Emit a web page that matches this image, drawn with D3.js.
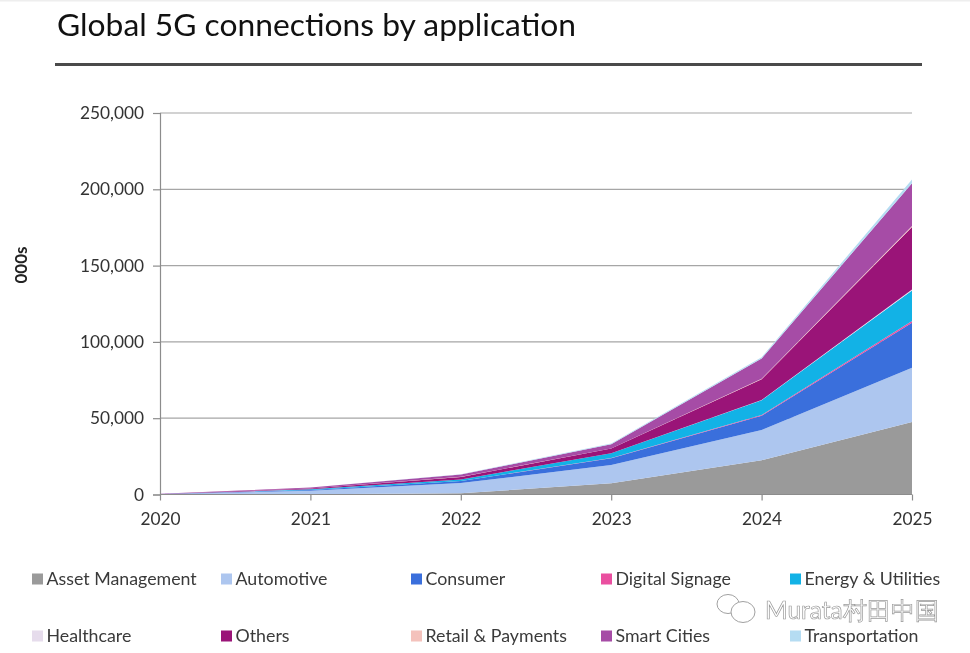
<!DOCTYPE html>
<html>
<head>
<meta charset="utf-8">
<script src="https://cdn.jsdelivr.net/npm/d3@7"></script>
<style>
  html, body { margin: 0; padding: 0; background: #fff; }
  svg { display: block; filter: blur(0.35px); }
  text { font-family: Lato, "Open Sans", sans-serif; }
</style>
</head>
<body>
<svg width="970" height="653"></svg>
<script>
'use strict';

const years = [2020, 2021, 2022, 2023, 2024, 2025];
const yTicks = [0, 50000, 100000, 150000, 200000, 250000];

const assetManagement = [50, 200, 800, 7300, 22500, 47500];
const automotive = [150, 2300, 6700, 12000, 19800, 35500];
const consumer = [50, 500, 1300, 4400, 9300, 29500];
const digitalSignage = [5, 20, 60, 150, 500, 1200];
const energyUtilities = [40, 400, 1000, 3100, 9600, 20000];
const healthcare = [5, 20, 50, 120, 300, 600];
const others = [60, 550, 1600, 3000, 13500, 41000];
const retailPayments = [5, 20, 50, 120, 300, 700];
const smartCities = [60, 550, 1500, 2800, 13300, 28000];
const transportation = [10, 60, 150, 400, 800, 2500];

const seriesNames = ['Asset Management', 'Automotive', 'Consumer', 'Digital Signage', 'Energy & Utilities',
  'Healthcare', 'Others', 'Retail & Payments', 'Smart Cities', 'Transportation'];
const seriesValues = [assetManagement, automotive, consumer, digitalSignage, energyUtilities,
  healthcare, others, retailPayments, smartCities, transportation];
const seriesColors = ['#9a9a9a', '#adc6ef', '#3a6fdc', '#ea4fa0', '#12b2e6',
  '#e6dcec', '#9a1478', '#f4c2bc', '#a64ca6', '#b5dcf2'];

let svg = d3.select('svg');

// top edge of the screenshot
svg.append('rect').attr('width', 970).attr('height', 1.5).attr('fill', '#eeeeee');

// title
svg.append('text')
    .attr('x', 57).attr('y', 36)
    .attr('font-size', 31)
    .attr('fill', '#111')
    .attr('textLength', 519)
    .attr('lengthAdjust', 'spacingAndGlyphs')
    .text('Global 5G connections by application');
svg.append('rect').attr('x', 55).attr('y', 63).attr('width', 867).attr('height', 3).attr('fill', '#4a4a4a');

let x = d3.scalePoint().domain(years).range([160, 912]);
let y = d3.scaleLinear().domain([0, 250000]).range([494.5, 113]);

// gridlines
svg.append('g').selectAll('line').data(yTicks.slice(1)).enter().append('line')
    .attr('x1', 160).attr('x2', 912)
    .attr('y1', d => y(d)).attr('y2', d => y(d))
    .attr('stroke', '#a6a6a6').attr('stroke-width', 1.2);

// areas
let rows = years.map((yr, i) => {
  let r = {year: yr};
  seriesNames.forEach((n, j) => { r[n] = seriesValues[j][i]; });
  return r;
});
let stacked = d3.stack().keys(seriesNames)(rows);
let area = d3.area()
    .x(d => x(d.data.year))
    .y0(d => y(d[0]))
    .y1(d => y(d[1]));
svg.append('g').selectAll('path').data(stacked).enter().append('path')
    .attr('d', area)
    .attr('fill', (d, i) => seriesColors[i]);

// axes
let yAxis = d3.axisLeft(y).tickValues(yTicks).tickFormat(d3.format(',')).tickSize(7).tickPadding(9);
let gy = svg.append('g').attr('transform', 'translate(160,0)').call(yAxis);
let xAxis = d3.axisBottom(x).tickSize(6).tickPadding(12).tickFormat(d3.format('d'));
let gx = svg.append('g').attr('transform', 'translate(0,494.5)').call(xAxis);
[gy, gx].forEach(g => {
  g.selectAll('path, line').attr('stroke', '#8c8c8c').attr('stroke-width', 1.2);
  g.selectAll('text').attr('font-size', 17.3).attr('fill', '#333').attr('font-family', 'Lato');
});
gx.select('path').attr('d', 'M160,0H912');

// y axis title
svg.append('text')
    .attr('transform', 'translate(27,265) rotate(-90)')
    .attr('text-anchor', 'middle')
    .attr('font-size', 17).attr('font-weight', 700).attr('fill', '#222')
    .text('000s');

// legend
let legendCol = d3.scaleOrdinal().domain(d3.range(5)).range([32, 221, 411, 601, 790]);
let legendRow = d3.scaleOrdinal().domain([0, 1]).range([579, 636]);
let legend = svg.append('g').selectAll('g').data(seriesNames).enter().append('g')
    .attr('transform', (d, i) => `translate(${legendCol(i % 5)},${legendRow(Math.floor(i / 5))})`);
legend.append('rect')
    .attr('y', -5.5).attr('width', 11).attr('height', 11)
    .attr('fill', (d, i) => seriesColors[i]);
legend.append('text')
    .attr('x', 14.5).attr('y', 6)
    .attr('font-size', 17.8).attr('fill', '#3a3a3a')
    .text(d => d);

// watermark
let mark = svg.append('g');
mark.append('ellipse').attr('cx', 728).attr('cy', 604).attr('rx', 11).attr('ry', 9.5)
    .attr('fill', 'none').attr('stroke', '#a0a0a0').attr('stroke-width', 1);
mark.append('ellipse').attr('cx', 743).attr('cy', 612).attr('rx', 12).attr('ry', 10.5)
    .attr('fill', '#fff').attr('stroke', '#a0a0a0').attr('stroke-width', 1);
mark.append('text')
    .attr('x', 765).attr('y', 619)
    .attr('font-family', '"Noto Sans CJK SC", Lato, sans-serif')
    .attr('font-size', 24.4)
    .attr('fill', '#fff').attr('stroke', '#9a9a9a').attr('stroke-width', 0.7)
    .text('Murata村田中国');
</script>
</body>
</html>
